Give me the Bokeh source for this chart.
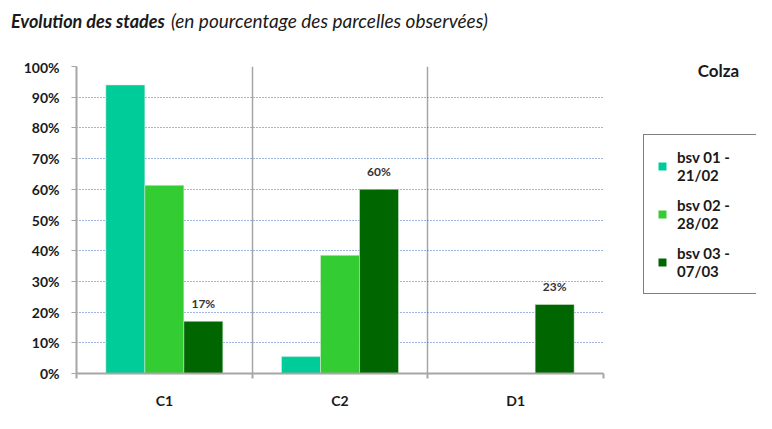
from bokeh.plotting import figure
from bokeh.layouts import column, row
from bokeh.models import (ColumnDataSource, FixedTicker, PrintfTickFormatter, Range1d,
                          Legend, LegendItem, Label, LabelSet, Div)
from bokeh.core.properties import value
from bokeh.embed import file_html
from bokeh.resources import INLINE

categories = ["C1", "C2", "D1"]
series_names = ["bsv 01 -\n21/02", "bsv 02 -\n28/02", "bsv 03 -\n07/03"]
bsv01 = [94, 5.5, 0]
bsv02 = [61.3, 38.5, 0]
bsv03 = [17, 60, 22.5]
bsv03_labels = ["17%", "60%", "23%"]
colors = ["#00CC99", "#33CC33", "#006600"]
y_ticks = [0, 10, 20, 30, 40, 50, 60, 70, 80, 90, 100]
title_main = "Evolution des stades"
title_sub = "(en pourcentage des parcelles observées)"

FONT = "Lato"
TXT = "#1a1a1a"

# ---------- title strip ----------
t = Div(width=605, height=58, margin=0,
        text=(f'<div style="position:absolute; left:11px; top:7px; white-space:nowrap; '
              f'font-family:Lato; color:{TXT};">'
              f'<span style="font-size:18px; font-weight:bold; font-style:italic;">{title_main}</span>'
              f'<span style="font-size:19px; font-style:italic; margin-left:6px;">{title_sub}</span>'
              f'</div>'))

# ---------- main chart ----------
p = figure(width=605, height=355, output_backend="svg", toolbar_location=None,
           x_range=Range1d(0, len(categories)), y_range=Range1d(0, 100),
           min_border_left=76, min_border_right=2, min_border_top=8, min_border_bottom=40)
p.outline_line_color = None

bar_w = 0.222
for s_i, (vals, col) in enumerate(zip([bsv01, bsv02, bsv03], colors)):
    xs = [i + 0.5 + (s_i - 1) * bar_w for i in range(len(categories))]
    src = ColumnDataSource(dict(x=xs, top=vals))
    p.vbar(x="x", top="top", bottom=0, width=bar_w, source=src,
           fill_color=col, line_color="#e0f0e0", line_width=1, line_alpha=0.5)

xs3 = [i + 0.5 + bar_w for i in range(len(categories))]
lab_src = ColumnDataSource(dict(x=xs3, y=bsv03, t=bsv03_labels))
p.add_layout(LabelSet(x="x", y="y", text="t", source=lab_src, y_offset=10,
                      text_align="center", text_baseline="bottom",
                      text_font=value(FONT), text_font_size=value("12px"),
                      text_font_style=value("bold"), text_color=value("#333333")))

p.yaxis.ticker = FixedTicker(ticks=y_ticks)
p.yaxis.formatter = PrintfTickFormatter(format="%d%%")
p.yaxis.major_label_text_font = FONT
p.yaxis.major_label_text_font_size = "14px"
p.yaxis.major_label_text_font_style = "bold"
p.yaxis.major_label_text_color = TXT
p.yaxis.axis_line_color = "#a6a6a6"
p.yaxis.axis_line_width = 2
p.yaxis.major_tick_line_color = "#a6a6a6"
p.yaxis.major_tick_out = 5
p.yaxis.major_tick_in = 0
p.yaxis.minor_tick_line_color = None
p.yaxis.major_label_standoff = 12

p.xaxis.ticker = FixedTicker(ticks=[i + 0.5 for i in range(len(categories))],
                             minor_ticks=list(range(len(categories) + 1)))
p.xaxis.major_label_overrides = {i + 0.5: c for i, c in enumerate(categories)}
p.xaxis.major_label_text_font = FONT
p.xaxis.major_label_text_font_size = "14px"
p.xaxis.major_label_text_font_style = "bold"
p.xaxis.major_label_text_color = TXT
p.xaxis.axis_line_color = "#a6a6a6"
p.xaxis.axis_line_width = 2
p.xaxis.major_tick_line_color = None
p.xaxis.minor_tick_line_color = "#a6a6a6"
p.xaxis.minor_tick_line_width = 2
p.xaxis.minor_tick_out = 5
p.xaxis.minor_tick_in = 0
p.xaxis.major_label_standoff = 12

p.ygrid.grid_line_color = "#3f6fc0"
p.ygrid.grid_line_dash = "1 2"
p.ygrid.grid_line_width = 1
p.xgrid.ticker = FixedTicker(ticks=list(range(1, len(categories) + 1)))
p.xgrid.grid_line_color = "#a6a6a6"
p.xgrid.grid_line_width = 1.5

# ---------- legend side (full height) ----------
s = figure(width=151, height=413, output_backend="svg", toolbar_location=None,
           x_range=Range1d(0, 151), y_range=Range1d(0, 413),
           min_border=0, x_axis_location=None, y_axis_location=None)
s.outline_line_color = None
s.grid.visible = False
dummies = []
for col in colors:
    dummies.append(s.vbar(x=[-50], top=[-40], bottom=[-50], width=1,
                          fill_color=col, line_color=None))
legend = Legend(items=[LegendItem(label=n, renderers=[r]) for n, r in zip(series_names, dummies)],
                location=(38, 119), border_line_color="black", border_line_width=1,
                label_text_font=FONT, label_text_font_size="15px",
                label_text_font_style="bold", label_text_color=TXT,
                glyph_width=10, glyph_height=10, spacing=12, padding=13,
                label_width=68, background_fill_color="white", label_standoff=10)
s.add_layout(legend, "center")
s.add_layout(Label(x=113, y=343, text="Colza", text_align="center", text_baseline="middle",
                   text_font=FONT, text_font_size="17px", text_font_style="bold",
                   text_color=TXT))

layout = row(column(t, p, spacing=0), s, spacing=0)
open("out.html", "w").write(file_html(layout, INLINE))
